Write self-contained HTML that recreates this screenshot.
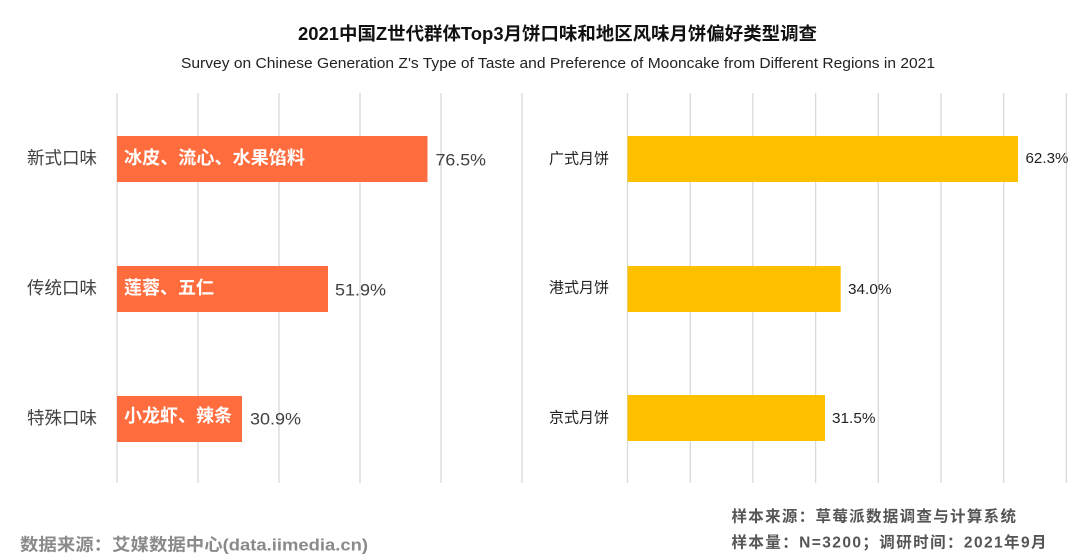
<!DOCTYPE html>
<html>
<head>
<meta charset="utf-8">
<style>
  html,body{margin:0;padding:0;background:#fff;}
  body{width:1080px;height:560px;overflow:hidden;}
  svg{display:block;}
  text{font-family:"Liberation Sans","Noto Sans CJK SC",sans-serif;}
</style>
</head>
<body>
<svg width="1080" height="560" viewBox="0 0 1080 560" xmlns="http://www.w3.org/2000/svg">
  <rect width="1080" height="560" fill="#fff"/>

  <!-- Title -->
  <text x="557.5" y="40" text-anchor="middle" font-size="18" font-weight="bold" fill="#111" textLength="519" lengthAdjust="spacingAndGlyphs">2021中国Z世代群体Top3月饼口味和地区风味月饼偏好类型调查</text>
  <text x="558" y="68" text-anchor="middle" font-size="14.5" fill="#222" textLength="754" lengthAdjust="spacingAndGlyphs">Survey on Chinese Generation Z's Type of Taste and Preference of Mooncake from Different Regions in 2021</text>

  <!-- Left gridlines -->
  <g stroke="#d9d9d9" stroke-width="1.3">
    <line x1="117" y1="93" x2="117" y2="483"/>
    <line x1="198" y1="93" x2="198" y2="483"/>
    <line x1="279" y1="93" x2="279" y2="483"/>
    <line x1="360" y1="93" x2="360" y2="483"/>
    <line x1="441" y1="93" x2="441" y2="483"/>
    <line x1="522" y1="93" x2="522" y2="483"/>
  </g>

  <!-- Right gridlines -->
  <g stroke="#d9d9d9" stroke-width="1.3">
    <line x1="627.5" y1="93" x2="627.5" y2="483"/>
    <line x1="690.2" y1="93" x2="690.2" y2="483"/>
    <line x1="752.9" y1="93" x2="752.9" y2="483"/>
    <line x1="815.6" y1="93" x2="815.6" y2="483"/>
    <line x1="878.3" y1="93" x2="878.3" y2="483"/>
    <line x1="941" y1="93" x2="941" y2="483"/>
    <line x1="1003.7" y1="93" x2="1003.7" y2="483"/>
    <line x1="1066.4" y1="93" x2="1066.4" y2="483"/>
  </g>

  <!-- Left bars -->
  <rect x="117" y="136" width="310.5" height="46" fill="#FF6C3E"/>
  <rect x="117" y="266" width="211" height="46" fill="#FF6C3E"/>
  <rect x="117" y="396" width="125" height="46" fill="#FF6C3E"/>

  <!-- Left bar inner text -->
  <g font-size="18" font-weight="bold" fill="#fff" dominant-baseline="central">
    <text x="124" y="158" textLength="181" lengthAdjust="spacingAndGlyphs">冰皮、流心、水果馅料</text>
    <text x="124" y="288" textLength="90" lengthAdjust="spacingAndGlyphs">莲蓉、五仁</text>
    <text x="124" y="416" textLength="108" lengthAdjust="spacingAndGlyphs">小龙虾、辣条</text>
  </g>

  <!-- Left category labels -->
  <g font-size="17.5" fill="#404040" text-anchor="end" dominant-baseline="central">
    <text x="97" y="158">新式口味</text>
    <text x="97" y="288">传统口味</text>
    <text x="97" y="418">特殊口味</text>
  </g>

  <!-- Left value labels -->
  <g font-size="17" fill="#404040" dominant-baseline="central">
    <text x="435.5" y="160" textLength="50.5" lengthAdjust="spacingAndGlyphs">76.5%</text>
    <text x="335" y="290" textLength="51" lengthAdjust="spacingAndGlyphs">51.9%</text>
    <text x="250" y="419" textLength="51" lengthAdjust="spacingAndGlyphs">30.9%</text>
  </g>

  <!-- Right bars -->
  <rect x="627.5" y="136" width="390.5" height="46" fill="#FFC000"/>
  <rect x="627.5" y="266" width="213.2" height="46" fill="#FFC000"/>
  <rect x="627.5" y="395" width="197.5" height="46" fill="#FFC000"/>

  <!-- Right category labels -->
  <g font-size="15" fill="#222" text-anchor="end" dominant-baseline="central">
    <text x="609" y="159">广式月饼</text>
    <text x="609" y="288">港式月饼</text>
    <text x="609" y="418">京式月饼</text>
  </g>

  <!-- Right value labels -->
  <g font-size="14.5" fill="#222" dominant-baseline="central">
    <text x="1025.5" y="159" textLength="43" lengthAdjust="spacingAndGlyphs">62.3%</text>
    <text x="848" y="290" textLength="43.5" lengthAdjust="spacingAndGlyphs">34.0%</text>
    <text x="832" y="419" textLength="43.5" lengthAdjust="spacingAndGlyphs">31.5%</text>
  </g>

  <!-- Footer left -->
  <text x="20" y="545" font-size="17" font-weight="bold" fill="#8a8a8a" dominant-baseline="central" textLength="348" lengthAdjust="spacingAndGlyphs">数据来源：艾媒数据中心(data.iimedia.cn)</text>

  <!-- Footer right -->
  <g font-size="15.5" font-weight="bold" fill="#555" dominant-baseline="central">
    <text x="731.5" y="517" textLength="284.5" lengthAdjust="spacing">样本来源：草莓派数据调查与计算系统</text>
    <text x="731.5" y="543" textLength="315" lengthAdjust="spacing">样本量：N=3200；调研时间：2021年9月</text>
  </g>
</svg>
</body>
</html>
